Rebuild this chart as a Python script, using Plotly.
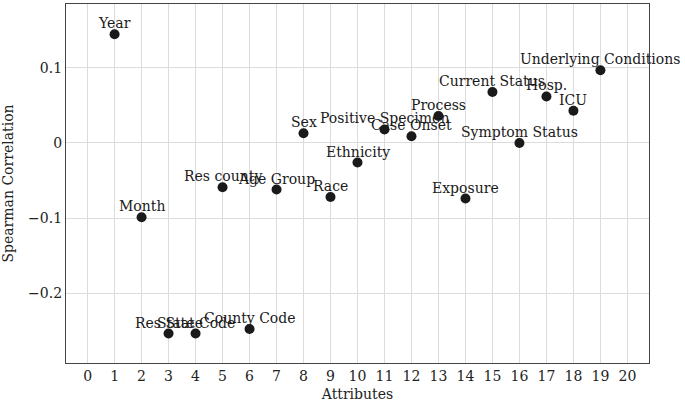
import plotly.graph_objects as go

attributes = ["Year", "Month", "Res State", "State Code", "Res county", "County Code",
              "Age Group", "Sex", "Race", "Ethnicity", "Positive Specimen", "Case Onset",
              "Process", "Exposure", "Current Status", "Symptom Status", "Hosp.", "ICU",
              "Underlying Conditions"]
positions = [1, 2, 3, 4, 5, 6, 7, 8, 9, 10, 11, 12, 13, 14, 15, 16, 17, 18, 19]
spearman = [0.145, -0.099, -0.254, -0.254, -0.059, -0.248, -0.062, 0.013, -0.072, -0.026,
            0.018, 0.009, 0.036, -0.074, 0.068, 0.000, 0.062, 0.043, 0.097]

x_ticks = list(range(0, 21))
y_ticks = [-0.2, -0.1, 0, 0.1]
y_ticktext = ["\u22120.2", "\u22120.1", "0", "0.1"]

FONT = "DejaVu Serif"
FS = 14

fig = go.Figure()
fig.add_trace(go.Scatter(
    x=positions, y=spearman, mode="markers",
    marker=dict(size=10, color="#1a1a1a"),
    cliponaxis=False, hoverinfo="skip"))

for name, xv, yv in zip(attributes, positions, spearman):
    fig.add_annotation(x=xv, y=yv, text=name, showarrow=False,
                       xanchor="center", yanchor="bottom", yshift=1,
                       font=dict(family=FONT, size=FS, color="#1a1a1a"))

fig.update_layout(
    width=685, height=402,
    margin=dict(l=66, r=36, t=4, b=39),
    plot_bgcolor="white", paper_bgcolor="white",
    showlegend=False,
    font=dict(family=FONT, size=FS, color="#222222"),
)
fig.update_xaxes(
    range=[-0.8, 20.8], tickvals=x_ticks, ticktext=[str(v) for v in x_ticks],
    showgrid=True, gridcolor="#dcdcdc", gridwidth=1, zeroline=False,
    showline=True, linecolor="#444444", linewidth=1.3, mirror=True, ticks="",
    automargin=False,
    title=dict(text="Attributes", standoff=12, font=dict(size=FS)),
    tickfont=dict(size=FS))
fig.update_yaxes(
    range=[-0.2933, 0.1853], tickvals=y_ticks, ticktext=y_ticktext,
    showgrid=True, gridcolor="#dcdcdc", gridwidth=1, zeroline=False,
    showline=True, linecolor="#444444", linewidth=1.3, mirror=True, ticks="",
    automargin=False,
    title=dict(text="Spearman Correlation", standoff=12, font=dict(size=FS)),
    tickfont=dict(size=FS))

fig.write_html("out.html", config={"displayModeBar": False},
               post_script="document.body.style.margin='0px';")
